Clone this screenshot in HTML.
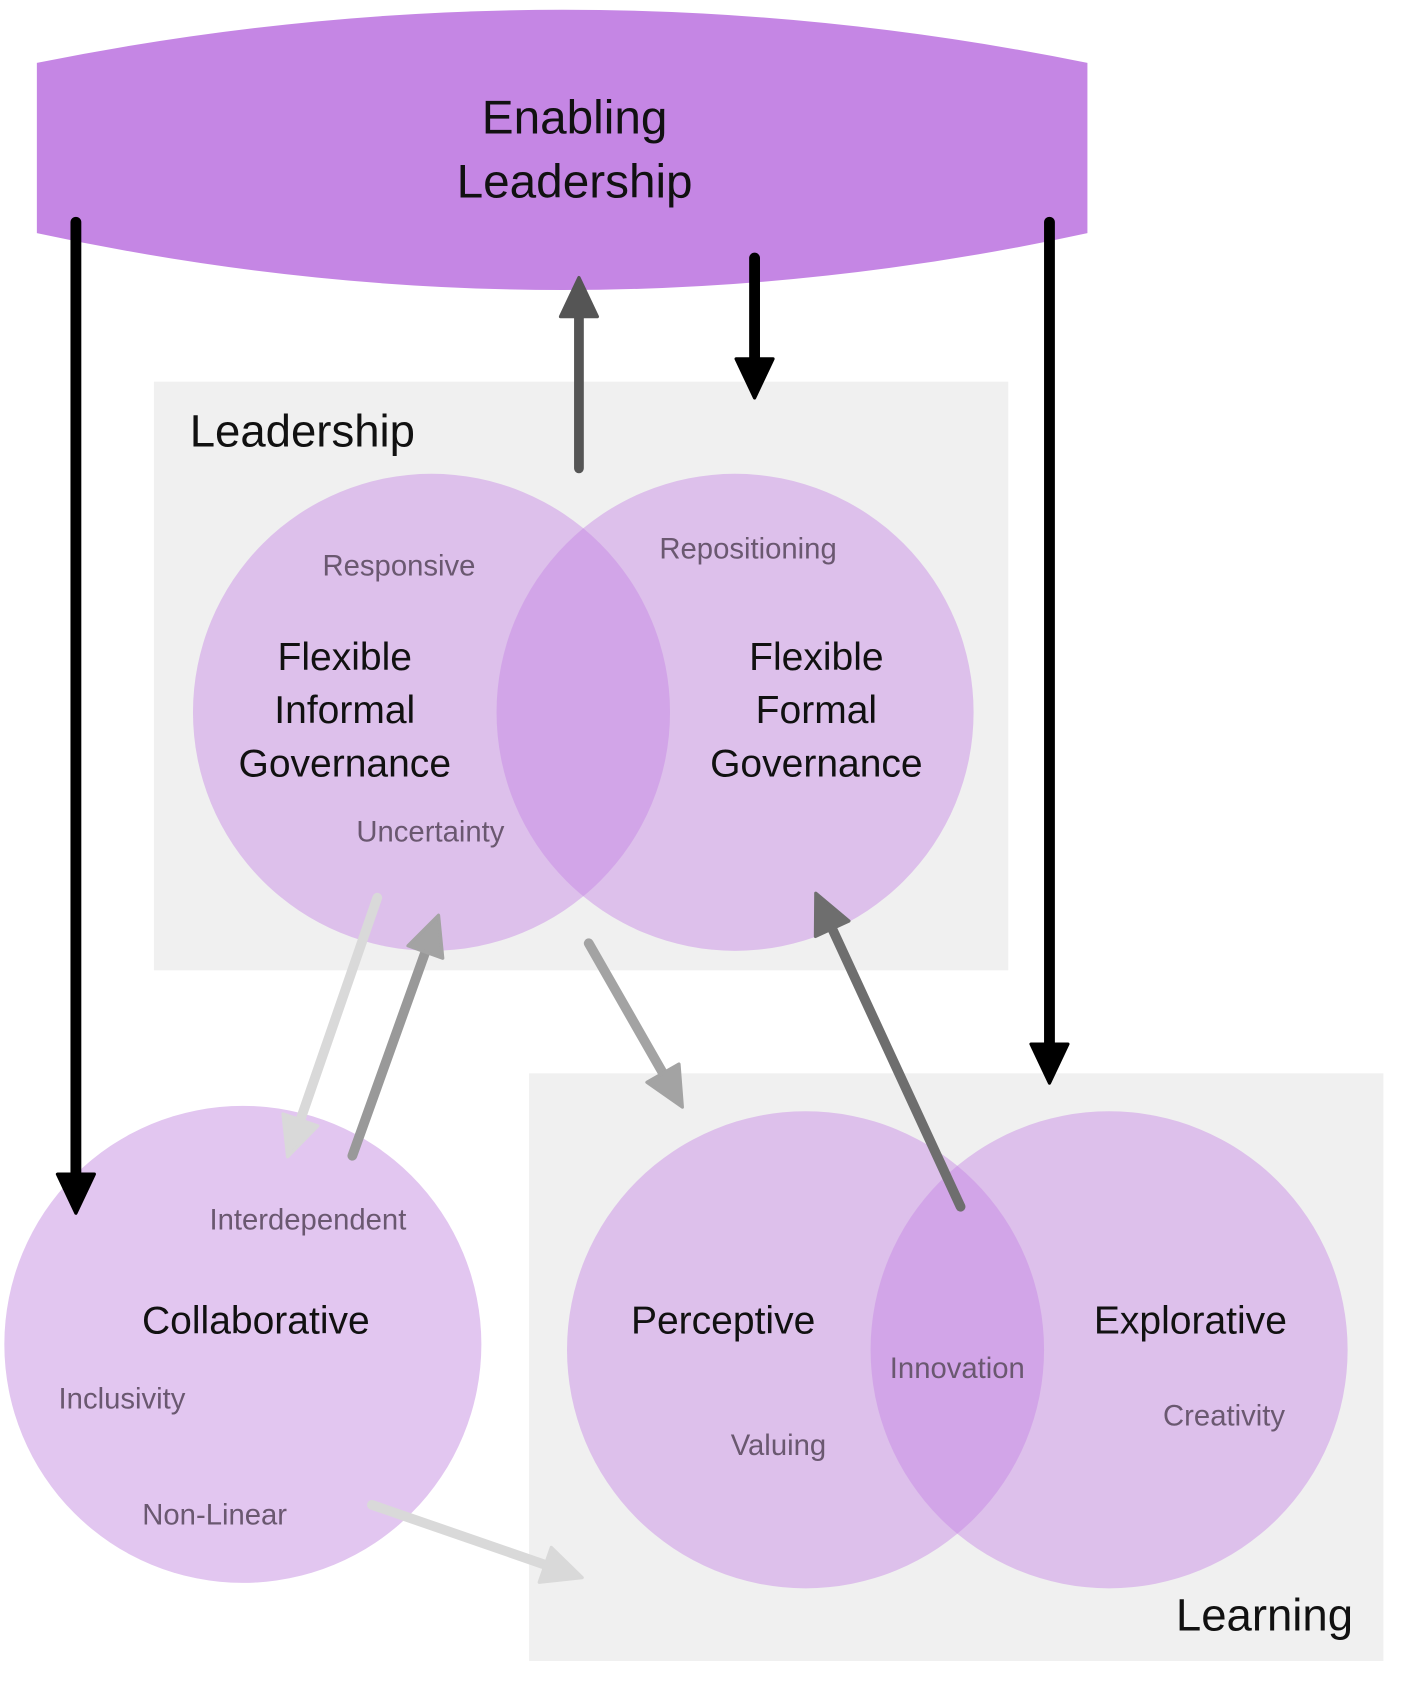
<!DOCTYPE html>
<html><head><meta charset="utf-8"><style>
html,body{margin:0;padding:0;background:#fff;}
svg{display:block;}
text{font-family:"Liberation Sans",sans-serif;}
.big{font-size:36px;fill:#111;}
.sm{font-size:27px;fill:#6a5870;}
</style></head><body>
<svg width="1417" height="1700" viewBox="0 0 1307 1568" xmlns="http://www.w3.org/2000/svg">
<defs>
<marker id="mk" viewBox="0 0 40 40" markerUnits="userSpaceOnUse" markerWidth="40" markerHeight="40" refX="1" refY="20" orient="auto"><path d="M2,3 L38,20 L2,37 Z" fill="#000" stroke="#000" stroke-width="3" stroke-linejoin="round"/></marker>
<marker id="m5" viewBox="0 0 40 40" markerUnits="userSpaceOnUse" markerWidth="40" markerHeight="40" refX="1" refY="20" orient="auto"><path d="M2,3 L38,20 L2,37 Z" fill="#555" stroke="#555" stroke-width="3" stroke-linejoin="round"/></marker>
<marker id="m6" viewBox="0 0 40 40" markerUnits="userSpaceOnUse" markerWidth="40" markerHeight="40" refX="1" refY="20" orient="auto"><path d="M2,3 L38,20 L2,37 Z" fill="#6e6e6e" stroke="#6e6e6e" stroke-width="3" stroke-linejoin="round"/></marker>
<marker id="m9" viewBox="0 0 40 40" markerUnits="userSpaceOnUse" markerWidth="40" markerHeight="40" refX="1" refY="20" orient="auto"><path d="M2,3 L38,20 L2,37 Z" fill="#a3a3a3" stroke="#a3a3a3" stroke-width="3" stroke-linejoin="round"/></marker>
<marker id="md" viewBox="0 0 40 40" markerUnits="userSpaceOnUse" markerWidth="40" markerHeight="40" refX="1" refY="20" orient="auto"><path d="M2,3 L38,20 L2,37 Z" fill="#d9d9d9" stroke="#d9d9d9" stroke-width="3" stroke-linejoin="round"/></marker>
</defs>

<!-- banner -->
<path d="M34,58 Q520,-40 1003,58 L1003,215 Q520,320 34,215 Z" fill="#c586e4"/>
<text x="530" y="123" text-anchor="middle" font-size="44" fill="#111">Enabling</text>
<text x="530" y="182" text-anchor="middle" font-size="44" fill="#111">Leadership</text>

<!-- boxes -->
<rect x="142" y="352" width="788" height="543" fill="#f0f0f0"/>
<rect x="488" y="990" width="788" height="542" fill="#f0f0f0"/>
<text x="175" y="412" font-size="42" fill="#111">Leadership</text>
<text x="1248" y="1504" text-anchor="end" font-size="42" fill="#111">Learning</text>

<!-- circles -->
<circle cx="398" cy="657" r="220" fill="rgba(197,134,228,0.45)"/>
<circle cx="678" cy="657" r="220" fill="rgba(197,134,228,0.45)"/>
<circle cx="224" cy="1240" r="220" fill="#e2c6f0"/>
<circle cx="743" cy="1245" r="220" fill="rgba(197,134,228,0.45)"/>
<circle cx="1023" cy="1245" r="220" fill="rgba(197,134,228,0.45)"/>

<!-- texts -->
<text class="sm" x="368" y="531" text-anchor="middle">Responsive</text>
<text class="sm" x="690" y="515" text-anchor="middle">Repositioning</text>
<text class="big" x="318" y="618" text-anchor="middle">Flexible</text>
<text class="big" x="318" y="667" text-anchor="middle">Informal</text>
<text class="big" x="318" y="716" text-anchor="middle">Governance</text>
<text class="big" x="753" y="618" text-anchor="middle">Flexible</text>
<text class="big" x="753" y="667" text-anchor="middle">Formal</text>
<text class="big" x="753" y="716" text-anchor="middle">Governance</text>
<text class="sm" x="397" y="776" text-anchor="middle">Uncertainty</text>

<text class="sm" x="284" y="1134" text-anchor="middle">Interdependent</text>
<text class="big" x="236" y="1230" text-anchor="middle">Collaborative</text>
<text class="sm" x="54" y="1299">Inclusivity</text>
<text class="sm" x="198" y="1406" text-anchor="middle">Non-Linear</text>

<text class="big" x="667" y="1230" text-anchor="middle">Perceptive</text>
<text class="big" x="1098" y="1230" text-anchor="middle">Explorative</text>
<text class="sm" x="883" y="1271" text-anchor="middle">Innovation</text>
<text class="sm" x="718" y="1342" text-anchor="middle">Valuing</text>
<text class="sm" x="1129" y="1315" text-anchor="middle">Creativity</text>

<!-- arrows -->
<g stroke-linecap="round" fill="none">
<line x1="70" y1="205" x2="70" y2="1082" stroke="#000" stroke-width="10" marker-end="url(#mk)"/>
<line x1="968" y1="205" x2="968" y2="962" stroke="#000" stroke-width="10" marker-end="url(#mk)"/>
<line x1="696" y1="238" x2="696" y2="330" stroke="#000" stroke-width="10" marker-end="url(#mk)"/>
<line x1="534" y1="432" x2="534" y2="293" stroke="#555" stroke-width="9" marker-end="url(#m5)"/>
<line x1="348" y1="828" x2="277.4" y2="1032" stroke="#d9d9d9" stroke-width="9" marker-end="url(#md)"/>
<line x1="325" y1="1066" x2="392" y2="879" stroke="#999" stroke-width="9" marker-end="url(#m9)"/>
<line x1="543" y1="870" x2="611" y2="989" stroke="#a3a3a3" stroke-width="9" marker-end="url(#m9)"/>
<line x1="886" y1="1113" x2="768" y2="857.5" stroke="#6e6e6e" stroke-width="9" marker-end="url(#m6)"/>
<line x1="343" y1="1388" x2="502" y2="1443" stroke="#d9d9d9" stroke-width="9" marker-end="url(#md)"/>
</g>
</svg>
</body></html>
